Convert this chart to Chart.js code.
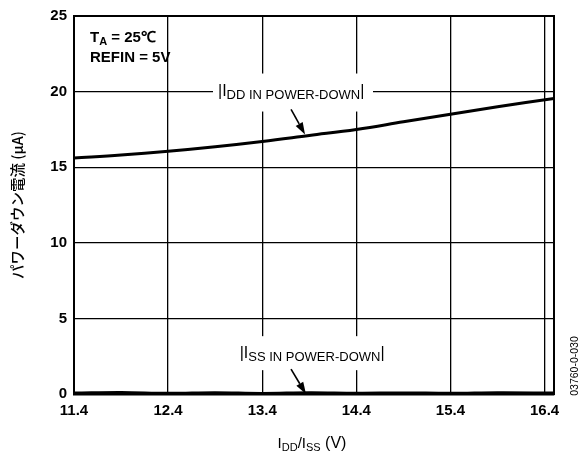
<!DOCTYPE html>
<html>
<head>
<meta charset="utf-8">
<script src="https://cdn.jsdelivr.net/npm/chart.js@4/dist/chart.umd.min.js"></script>
<style>
  html, body { margin: 0; padding: 0; background: #fff; }
</style>
</head>
<body>
<canvas id="c" width="583" height="456"></canvas>
<script>
// ── Dados ──
const supplyV   = [11.4, 11.9, 12.4, 12.9, 13.4, 13.9, 14.4, 14.9, 15.4, 15.9, 16.5];
const iddPD     = [15.6, 15.8, 16.05, 16.35, 16.7, 17.1, 17.5, 18.0, 18.5, 19.0, 19.55];
const issPD     = [0.08, 0.12, 0.06, 0.1, 0.05, 0.1, 0.07, 0.09, 0.06, 0.1, 0.08];
const xTicks    = [11.4, 12.4, 13.4, 14.4, 15.4, 16.4];
const yTicks    = [0, 5, 10, 15, 20, 25];

const FONT = '"Liberation Sans", Arial, sans-serif';

// texto com subscrito: partes [{t, font, dy}]
function drawParts(ctx, parts, x, y, align) {
  let total = 0;
  parts.forEach(p => { ctx.font = p.font; total += ctx.measureText(p.t).width; });
  let cx = align === 'center' ? x - total / 2 : x;
  parts.forEach(p => {
    ctx.font = p.font;
    ctx.fillText(p.t, cx, y + (p.dy || 0));
    cx += ctx.measureText(p.t).width;
  });
  return total;
}

function arrow(ctx, x1, y1, x2, y2) {
  const a = Math.atan2(y2 - y1, x2 - x1);
  const hl = 12, hw = 4;
  const bx = x2 - hl * Math.cos(a), by = y2 - hl * Math.sin(a);
  ctx.strokeStyle = '#000';
  ctx.lineWidth = 1.6;
  ctx.beginPath(); ctx.moveTo(x1, y1); ctx.lineTo(bx, by); ctx.stroke();
  ctx.beginPath();
  ctx.moveTo(x2, y2);
  ctx.lineTo(bx + hw * Math.sin(a), by - hw * Math.cos(a));
  ctx.lineTo(bx - hw * Math.sin(a), by + hw * Math.cos(a));
  ctx.closePath(); ctx.fill();
}

// posições dos rótulos (valores de dados)
const iddLabelAt = { x: 12.93, y: 19.74 };
const issLabelAt = { x: 13.16, y: 2.37 };

// caixas brancas dos rótulos (antes das curvas)
const labelBoxes = {
  id: 'labelBoxes',
  beforeDatasetsDraw(chart) {
    const { ctx, scales: { x, y } } = chart;
    ctx.save();
    ctx.fillStyle = '#fff';
    let lx = x.getPixelForValue(iddLabelAt.x), ly = y.getPixelForValue(iddLabelAt.y);
    ctx.fillRect(lx - 5, ly - 22, 160, 38);
    lx = x.getPixelForValue(issLabelAt.x); ly = y.getPixelForValue(issLabelAt.y);
    ctx.fillRect(lx - 5, ly - 22, 158, 34);
    ctx.restore();
  }
};

const annotations = {
  id: 'annotations',
  afterDraw(chart) {
    const { ctx, scales: { x, y } } = chart;
    ctx.save();
    ctx.fillStyle = '#000';
    ctx.textBaseline = 'alphabetic';
    const big = 'bold 15px ' + FONT, sm = '13px ' + FONT, bar = '16px ' + FONT;

    // TA / REFIN
    drawParts(ctx, [
      { t: 'T', font: big }, { t: 'A', font: 'bold 11px ' + FONT, dy: 3 },
      { t: ' = 25\u2103', font: big }
    ], x.getPixelForValue(11.57), y.getPixelForValue(23.29), 'left');
    drawParts(ctx, [{ t: 'REFIN = 5V', font: big }],
      x.getPixelForValue(11.57), y.getPixelForValue(21.97), 'left');

    // |IDD IN POWER-DOWN|
    let lx = x.getPixelForValue(iddLabelAt.x), ly = y.getPixelForValue(iddLabelAt.y);
    drawParts(ctx, [
      { t: '|I', font: bar }, { t: 'DD IN POWER-DOWN', font: sm, dy: 3 }, { t: '|', font: bar }
    ], lx, ly, 'left');
    arrow(ctx, x.getPixelForValue(13.706), y.getPixelForValue(18.82),
               x.getPixelForValue(13.855), y.getPixelForValue(17.17));

    // |ISS IN POWER-DOWN|
    lx = x.getPixelForValue(issLabelAt.x); ly = y.getPixelForValue(issLabelAt.y);
    drawParts(ctx, [
      { t: '|I', font: bar }, { t: 'SS IN POWER-DOWN', font: sm, dy: 3 }, { t: '|', font: bar }
    ], lx, ly, 'left');
    arrow(ctx, x.getPixelForValue(13.706), y.getPixelForValue(1.64),
               x.getPixelForValue(13.865), y.getPixelForValue(0.0));

    // títulos dos eixos
    drawParts(ctx, [
      { t: 'I', font: '15px ' + FONT }, { t: 'DD', font: '11px ' + FONT, dy: 3 },
      { t: '/I', font: '15px ' + FONT }, { t: 'SS', font: '11px ' + FONT, dy: 3 },
      { t: ' (V)', font: '16px ' + FONT }
    ], (x.left + x.right) / 2 - 2, 448, 'center');

    ctx.save();
    ctx.translate(18, (y.top + y.bottom) / 2);
    ctx.rotate(-Math.PI / 2);
    ctx.textAlign = 'center';
    ctx.font = '500 14.5px "Noto Sans CJK JP", sans-serif';
    ctx.fillText('パワーダウン電流 (μA)', 0, 5);
    ctx.restore();

    ctx.save();
    ctx.translate(578, 366);
    ctx.rotate(-Math.PI / 2);
    ctx.textAlign = 'center';
    ctx.font = '10.5px ' + FONT;
    ctx.fillText('03760-0-030', 0, 0);
    ctx.restore();

    // moldura
    const a = chart.chartArea;
    ctx.strokeStyle = '#000';
    ctx.lineWidth = 2;
    ctx.strokeRect(a.left, a.top, a.right - a.left, a.bottom - a.top);
    ctx.restore();
  }
};

new Chart(document.getElementById('c'), {
  type: 'line',
  data: {
    datasets: [
      {
        label: 'IDD',
        data: supplyV.map((v, i) => ({ x: v, y: iddPD[i] })),
        borderColor: '#000', borderWidth: 3, pointRadius: 0, tension: 0.4, fill: false,
      },
      {
        label: 'ISS',
        data: supplyV.map((v, i) => ({ x: v, y: issPD[i] })),
        borderColor: '#000', borderWidth: 2.5, pointRadius: 0, tension: 0.4, fill: false,
      },
    ],
  },
  options: {
    responsive: false,
    animation: false,
    devicePixelRatio: 1,
    layout: { padding: { left: 0, right: 29, top: 14, bottom: 0 } },
    plugins: { legend: { display: false }, tooltip: { enabled: false } },
    scales: {
      x: {
        type: 'linear', min: 11.4, max: 16.5,
        afterBuildTicks: s => { s.ticks = xTicks.map(v => ({ value: v })); },
        afterFit: s => { s.height = 62; },
        ticks: {
          color: '#000', padding: 8, maxRotation: 0,
          font: { family: FONT, size: 15, weight: 'bold' },
          callback: v => v.toFixed(1),
        },
        grid: { color: '#000', lineWidth: 1.3, drawTicks: false },
        border: { color: '#000', width: 2.5 },
      },
      y: {
        min: 0, max: 25,
        afterBuildTicks: s => { s.ticks = yTicks.map(v => ({ value: v })); },
        afterFit: s => { s.width = 74; },
        ticks: {
          color: '#000', padding: 7,
          font: { family: FONT, size: 15, weight: 'bold' },
        },
        grid: { color: '#000', lineWidth: 1.3, drawTicks: false },
        border: { color: '#000', width: 2 },
      },
    },
  },
  plugins: [labelBoxes, annotations],
});
</script>
</body>
</html>
